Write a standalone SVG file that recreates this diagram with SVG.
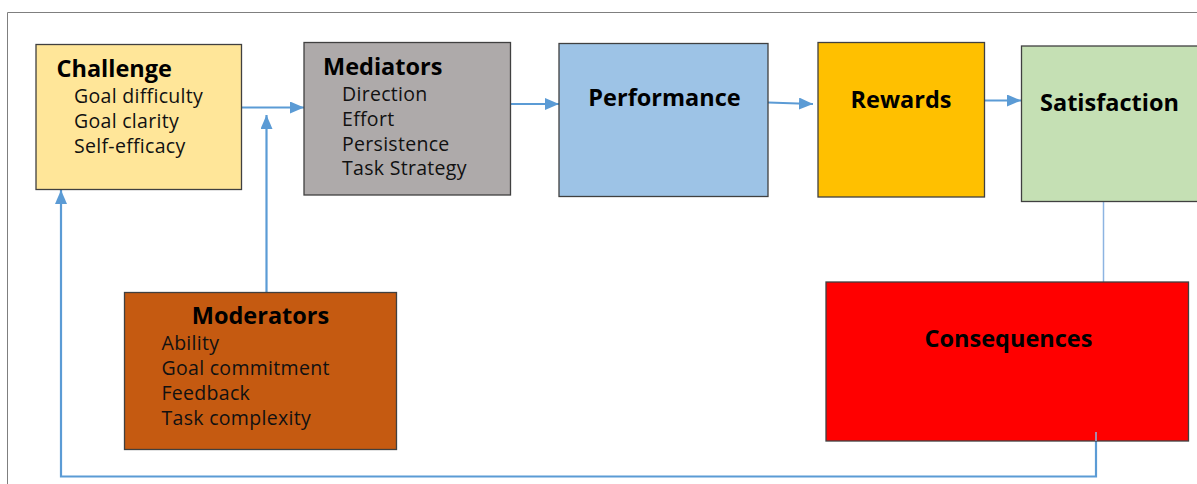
<svg xmlns="http://www.w3.org/2000/svg" width="1197" height="484" viewBox="0 0 1197 484">
<defs>
<marker id="ah" viewBox="0 0 14 12" refX="14" refY="6" markerWidth="14" markerHeight="12" markerUnits="userSpaceOnUse" orient="auto">
<path d="M0,0 L14,6 L0,12 Z" fill="#5B9BD5"/>
</marker>
<style>
.box{stroke:#404040;stroke-width:1.3}
.t{font-family:"Open Sans","Liberation Sans",sans-serif;font-weight:bold;font-size:23.5px;fill:#000}
.i{font-family:"Open Sans","Liberation Sans",sans-serif;font-size:19.5px;letter-spacing:0.3px;fill:#111}
.c{fill:none;stroke:#5B9BD5;stroke-width:2.2}
.thin{fill:none;stroke:#8DB4E2;stroke-width:1.5}
</style>
</defs>
<rect width="1197" height="484" fill="#fff"/>
<path d="M7.5,484 V12.5 H1197" fill="none" stroke="#7f7f7f" stroke-width="1"/>
<g id="connectors">
<line class="c" x1="241" y1="107.5" x2="304" y2="107.5" marker-end="url(#ah)"/>
<line class="c" x1="266.5" y1="292" x2="266.5" y2="115" marker-end="url(#ah)"/>
<line class="c" x1="511" y1="104" x2="559" y2="104" marker-end="url(#ah)"/>
<line class="c" x1="768" y1="102.5" x2="813" y2="104" marker-end="url(#ah)"/>
<line class="c" x1="985" y1="100.5" x2="1021" y2="100.5" marker-end="url(#ah)"/>
<line class="thin" x1="1103.5" y1="202" x2="1103.5" y2="282"/>
<polyline class="c" points="1096,436 1096,476.5 61,476.5 61,190" stroke-width="2" marker-end="url(#ah)"/>
</g>
<g id="challenge">
<rect class="box" x="36" y="44.5" width="205.5" height="145" fill="#FFE699"/>
<text class="t" x="56.5" y="77">Challenge</text>
<text class="i" x="74" y="103">Goal difficulty</text>
<text class="i" x="74" y="128">Goal clarity</text>
<text class="i" x="74" y="153">Self-efficacy</text>
</g>
<g id="mediators">
<rect class="box" x="304" y="42.5" width="206.5" height="152.5" fill="#AEAAAA"/>
<text class="t" x="323" y="74.5">Mediators</text>
<text class="i" x="342" y="101">Direction</text>
<text class="i" x="342" y="126">Effort</text>
<text class="i" x="342" y="150.5">Persistence</text>
<text class="i" x="342" y="175">Task Strategy</text>
</g>
<g id="performance">
<rect class="box" x="559" y="43.5" width="209" height="153" fill="#9DC3E6"/>
<text class="t" x="664.5" y="106" text-anchor="middle">Performance</text>
</g>
<g id="rewards">
<rect class="box" x="818" y="42.5" width="166.5" height="154.5" fill="#FFC000"/>
<text class="t" x="901" y="107.5" text-anchor="middle">Rewards</text>
</g>
<g id="satisfaction">
<rect class="box" x="1021.5" y="46" width="180" height="155.5" fill="#C5E0B4"/>
<text class="t" x="1109.5" y="111" text-anchor="middle">Satisfaction</text>
</g>
<g id="moderators">
<rect class="box" x="124.5" y="292.5" width="272" height="157" fill="#C55A11"/>
<text class="t" x="260.5" y="323.5" text-anchor="middle">Moderators</text>
<text class="i" x="161.5" y="350">Ability</text>
<text class="i" x="161.5" y="375">Goal commitment</text>
<text class="i" x="161.5" y="400">Feedback</text>
<text class="i" x="161.5" y="424.5">Task complexity</text>
</g>
<g id="consequences">
<rect class="box" x="826" y="282" width="362.5" height="159" fill="#FF0000"/>
<text class="t" x="1008.5" y="347" text-anchor="middle">Consequences</text>
<line class="thin" x1="1096" y1="432" x2="1096" y2="441"/>
</g>
</svg>
